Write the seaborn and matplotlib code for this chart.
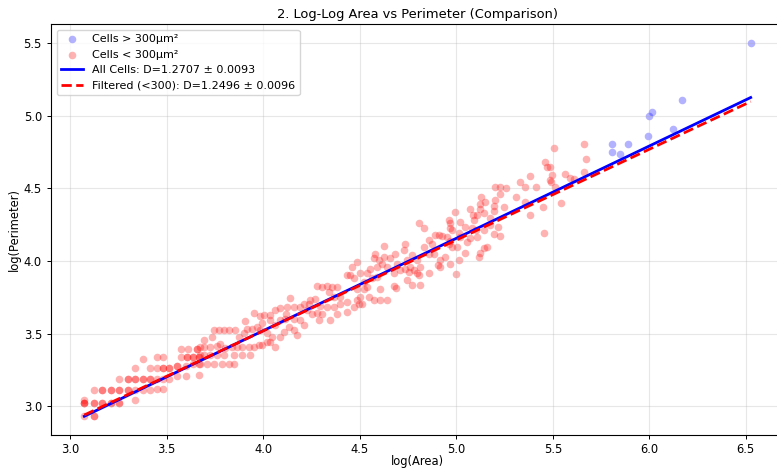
import numpy as np
import matplotlib
matplotlib.use("Agg")
import matplotlib.pyplot as plt
import seaborn as sns

# log(area) / log(perimeter) for cells with area < 300 µm², grouped by area band
band_a_area = [3.073, 3.121, 3.121,
               3.073, 3.073, 3.073, 3.121, 3.121, 3.167, 3.167, 3.211, 3.211, 3.255, 3.255,
               3.073, 3.337,
               3.121, 3.167, 3.167, 3.211, 3.211, 3.255, 3.255, 3.299, 3.299, 3.337, 3.377, 3.411, 3.449, 3.480,
               3.255, 3.299, 3.299, 3.337, 3.337, 3.377, 3.377, 3.411, 3.411, 3.449, 3.480, 3.514, 3.553, 3.601,
               3.337, 3.411, 3.449, 3.480, 3.480, 3.514, 3.514, 3.553, 3.553, 3.601, 3.636, 3.665, 3.665,
               3.377, 3.449, 3.480, 3.573, 3.604, 3.604, 3.636, 3.636, 3.665, 3.665,
               3.573, 3.612, 3.655, 3.655]
band_a_perim = [2.931, 2.931, 2.931,
                3.023, 3.023, 3.023, 3.023, 3.023, 3.023, 3.023, 3.023, 3.023, 3.023, 3.023,
                3.040, 3.041,
                3.110, 3.110, 3.110, 3.110, 3.110, 3.110, 3.110, 3.110, 3.110, 3.110, 3.110, 3.110, 3.122, 3.122,
                3.190, 3.190, 3.190, 3.190, 3.190, 3.190, 3.190, 3.190, 3.190, 3.190, 3.190, 3.190, 3.205, 3.205,
                3.265, 3.265, 3.265, 3.265, 3.265, 3.265, 3.265, 3.280, 3.280, 3.280, 3.290, 3.290, 3.213,
                3.328, 3.340, 3.340, 3.340, 3.340, 3.340, 3.340, 3.340, 3.340, 3.340,
                3.397, 3.397, 3.397, 3.397]

band_c_area = [3.674, 3.691, 3.726, 3.760, 3.795, 3.847, 3.890, 3.933,
               3.674, 3.708, 3.743, 3.786, 3.821, 3.847,
               3.691, 3.734, 3.743, 3.769, 3.795, 3.821, 3.855,
               3.674, 3.691, 3.726, 3.760, 3.778, 3.804, 3.838, 3.864, 3.890, 3.924, 3.950, 3.976, 3.993,
               4.019, 4.037, 4.063,
               3.873, 3.898, 3.916, 3.942, 3.968, 3.985, 4.019, 4.045, 4.088, 4.106, 4.132, 4.158, 4.175,
               3.907,
               3.950, 3.985, 4.002, 4.037, 4.063, 4.088, 4.037, 3.993, 4.063, 4.088, 4.114, 4.158, 4.192, 4.209,
               4.137, 4.158, 4.123, 4.120, 4.192, 4.209, 4.235, 4.244, 4.270, 4.227, 4.253, 4.278, 4.304,
               4.287, 4.347, 4.382, 4.434, 4.296, 4.330, 4.365, 4.399, 4.434, 4.399, 4.365, 4.339, 4.278,
               4.304, 4.330, 4.356, 4.382, 4.434]
band_c_perim = [3.351, 3.351, 3.351, 3.351, 3.351, 3.351, 3.351, 3.351,
                3.290, 3.290, 3.290, 3.290, 3.290, 3.290,
                3.455, 3.478, 3.524, 3.524, 3.524, 3.524, 3.524,
                3.409, 3.409, 3.409, 3.415, 3.430, 3.400, 3.409, 3.409, 3.409, 3.409, 3.409, 3.420, 3.420,
                3.443, 3.443, 3.409,
                3.478, 3.501, 3.535, 3.535, 3.547, 3.524, 3.501, 3.478, 3.478, 3.512, 3.547, 3.524, 3.490,
                3.588,
                3.639, 3.620, 3.627, 3.627, 3.661, 3.673, 3.593, 3.570, 3.558, 3.593, 3.604, 3.604, 3.593, 3.558,
                3.742, 3.684, 3.684, 3.638, 3.684, 3.707, 3.707, 3.730, 3.735, 3.661, 3.638, 3.643, 3.638,
                3.593, 3.593, 3.638, 3.650, 3.689, 3.684, 3.684, 3.707, 3.719, 3.753, 3.753, 3.788, 3.827,
                3.818, 3.827, 3.818, 3.818, 3.903]

band_d_area = [4.468, 4.486, 4.494, 4.512, 4.468, 4.520, 4.563, 4.589, 4.745, 4.814, 4.771, 4.690,
               4.676, 4.607, 4.538, 4.520, 4.503, 4.546, 4.572, 4.607, 4.641, 4.486,
               4.624, 4.580, 4.572, 4.598, 4.624, 4.658, 4.684, 4.693, 4.736, 4.727, 4.745, 4.770,
               4.796, 4.813, 4.762, 4.736, 4.753, 4.779, 4.796, 4.805, 4.857, 4.710, 4.675, 4.641,
               4.615, 4.589, 4.554, 4.537, 4.503, 4.485, 4.459, 4.451,
               4.805, 4.834, 4.860, 4.891, 4.909, 4.926, 4.952, 4.969, 4.977, 4.960, 5.012, 5.017,
               5.003, 5.047, 5.012, 5.000, 5.159, 5.142, 5.116, 5.021, 5.047, 5.081, 5.104, 5.142,
               5.107, 4.903, 4.917, 4.943, 4.969, 4.917, 4.883, 4.857, 4.831, 4.874,
               5.130, 5.150, 5.124, 5.121, 5.142, 5.107, 5.069, 5.086, 5.093, 4.995, 4.960, 4.969,
               4.966, 4.978, 5.055, 5.073, 5.124]
band_d_perim = [3.684, 3.730, 3.703, 3.703, 3.880, 3.857, 3.880, 3.891, 3.868, 3.834, 3.834, 3.817,
                3.827, 3.810, 3.822, 3.804, 3.753, 3.753, 3.730, 3.730, 3.730, 3.810,
                4.102, 4.051, 4.017, 4.005, 4.028, 4.017, 4.051, 3.982, 4.116, 4.074, 4.005, 4.040,
                4.005, 3.960, 3.960, 3.948, 3.925, 3.937, 3.914, 3.902, 3.914, 3.937, 3.914, 3.960,
                3.982, 3.960, 3.948, 3.914, 3.914, 3.994, 3.960, 3.902,
                4.258, 4.230, 4.143, 4.178, 4.178, 4.171, 4.162, 4.139, 4.097, 4.116, 4.189, 4.162,
                4.097, 4.056, 4.005, 3.909, 4.093, 4.086, 4.028, 4.270, 4.235, 4.230, 4.212, 4.212,
                4.166, 3.971, 4.005, 4.028, 3.982, 3.960, 4.051, 4.051, 4.097, 4.120,
                4.442, 4.407, 4.391, 4.361, 4.327, 4.315, 4.361, 4.315, 4.281, 4.338, 4.285, 4.258,
                4.224, 4.212, 4.132, 4.155, 4.052]

band_e_area = [5.202, 5.228, 5.259, 5.228, 5.202, 5.197, 5.197, 5.249, 5.214, 5.193, 5.224, 5.176, 5.176,
               5.311, 5.332, 5.358, 5.358, 5.380, 5.383, 5.413, 5.448, 5.453,
               5.461, 5.470, 5.487, 5.496, 5.483, 5.492,
               5.504, 5.513, 5.544, 5.565, 5.591, 5.608,
               5.663, 5.672, 5.660]
band_e_perim = [4.506, 4.506, 4.499, 4.460, 4.419, 4.377, 4.345, 4.372, 4.231, 4.185, 4.171, 4.295, 4.247,
                4.437, 4.545, 4.506, 4.407, 4.313, 4.584, 4.506, 4.368, 4.194,
                4.683, 4.648, 4.648, 4.591, 4.556, 4.545,
                4.779, 4.506, 4.396, 4.598, 4.568, 4.563,
                4.806, 4.701, 4.614]

# cells with area > 300 µm²
large_area = [6.525, 6.169, 6.016, 5.998, 6.121, 5.991, 5.888, 5.807, 5.807, 5.848]
large_perim = [5.502, 5.107, 5.027, 5.000, 4.908, 4.862, 4.806, 4.804, 4.751, 4.733]

# fractal dimension fits: slope of log P vs log A is D / 2
fit_labels = ["All Cells", "Filtered (<300)"]
fit_D = [1.2707, 1.2496]
fit_err = [0.0093, 0.0096]
fit_intercept = [0.979, 1.020]

small_area = band_a_area + band_c_area + band_d_area + band_e_area
small_perim = band_a_perim + band_c_perim + band_d_perim + band_e_perim

plt.rcParams.update({
    "font.family": ["DejaVu Sans"],
    "font.size": 8.3,
    "axes.linewidth": 0.8,
    "xtick.major.size": 3,
    "ytick.major.size": 3,
    "xtick.major.width": 0.7,
    "ytick.major.width": 0.7,
    "xtick.major.pad": 3,
})

fig = plt.figure(figsize=(7.77, 4.68), dpi=100)
ax = fig.add_axes([51 / 777, 33 / 468, 733 / 777, 411 / 468])

sns.scatterplot(x=large_area, y=large_perim, color="blue", alpha=0.3, s=30,
                linewidth=0, label="Cells > 300µm²", ax=ax)
sns.scatterplot(x=small_area, y=small_perim, color="red", alpha=0.3, s=30,
                linewidth=0, label="Cells < 300µm²", ax=ax)

all_area = np.array(small_area + large_area)
x_fit = np.array([all_area.min(), all_area.max()])
line_styles = [dict(color="blue", linestyle="-"), dict(color="red", linestyle="--")]
for name, D, err, b, style in zip(fit_labels, fit_D, fit_err, fit_intercept, line_styles):
    sns.lineplot(x=x_fit, y=D / 2 * x_fit + b, linewidth=2,
                 label=f"{name}: D={D:.4f} ± {err:.4f}", ax=ax, **style)

ax.grid(True, alpha=0.3)
ax.set_xlabel("log(Area)", fontsize=8.3, labelpad=-1)
ax.set_ylabel("log(Perimeter)", fontsize=8.3, labelpad=2)
ax.set_title("2. Log-Log Area vs Perimeter (Comparison)", fontsize=9.4, pad=4.5)
ax.tick_params(labelsize=8.3)
ax.legend(loc="upper left", fontsize=8)

fig.savefig("out.png", dpi=100)
